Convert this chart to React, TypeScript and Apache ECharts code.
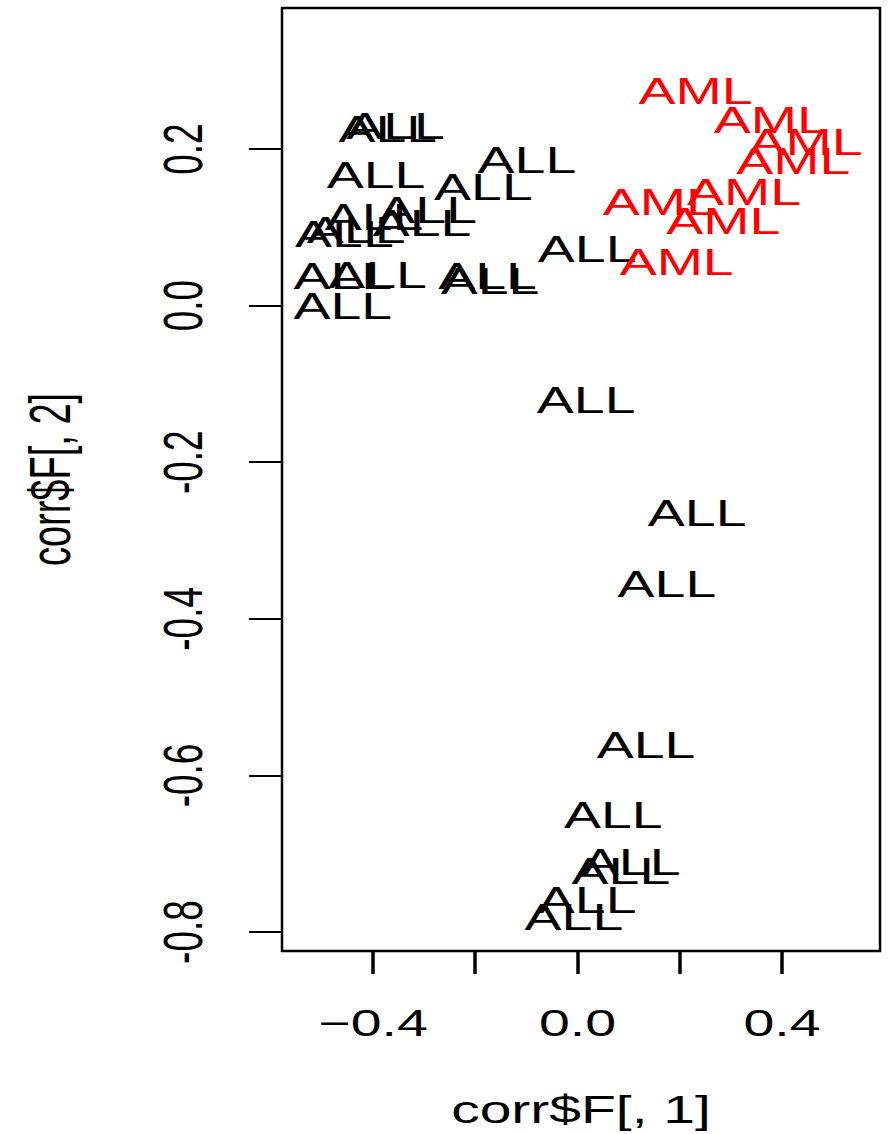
import React, { useEffect, useRef } from "react";
import * as echarts from "echarts";

// ALL sample coordinates (corr$F[,1], corr$F[,2])
const allX = [-0.371, -0.356, -0.394, -0.099, -0.184, -0.398, -0.293, -0.304, -0.456, -0.433, 0.019, -0.459, -0.391, -0.176, -0.171, -0.459, 0.017, 0.234, 0.175, 0.134, 0.07, 0.105, 0.085, 0.019, -0.007];
const allY = [0.226, 0.229, 0.167, 0.186, 0.151, 0.113, 0.122, 0.106, 0.091, 0.097, 0.072, 0.038, 0.039, 0.038, 0.031, -0.001, -0.121, -0.265, -0.356, -0.561, -0.651, -0.711, -0.722, -0.759, -0.781];
// AML sample coordinates
const amlX = [0.231, 0.378, 0.446, 0.422, 0.326, 0.161, 0.285, 0.194];
const amlY = [0.274, 0.237, 0.209, 0.184, 0.145, 0.132, 0.108, 0.056];

const xTickValues = [-0.4, -0.2, 0, 0.2, 0.4];
const xLabelValues = [-0.4, 0, 0.4];
const xTickLabels = ["\u22120.4", "0.0", "0.4"];
const yTickValues = [-0.8, -0.6, -0.4, -0.2, 0, 0.2];
const yTickLabels = ["-0.8", "-0.6", "-0.4", "-0.2", "0.0", "0.2"];

const X_MIN = -0.578;
const X_MAX = 0.5917;
const Y_MIN = -0.8242;
const Y_MAX = 0.3801;

const FONT = "Liberation Sans";
const FS = 37;
const SX = 1.5;

function txtStyle(text: string, fill: string, size: number = FS) {
  return {
    text,
    fill,
    fontSize: size,
    fontFamily: FONT,
    align: "center",
    verticalAlign: "middle",
    textAlign: "center",
    textVerticalAlign: "middle",
  };
}

export default function App() {
  const ref = useRef<HTMLDivElement>(null);
  useEffect(() => {
    if (!ref.current) return;
    const chart = echarts.init(ref.current, undefined, { renderer: "svg" });
    const labelSeries = (name: string, xs: number[], ys: number[], color: string) => ({
      type: "custom",
      name,
      silent: true,
      clip: false,
      data: xs.map((x, i) => [x, ys[i]]),
      renderItem: (params: any, api: any) => {
        const pt = api.coord([api.value(0), api.value(1)]);
        return {
          type: "text",
          x: pt[0],
          y: pt[1],
          scaleX: SX,
          style: txtStyle(name, color),
        };
      },
    });
    chart.setOption({
      animation: false,
      backgroundColor: "#ffffff",
      grid: {
        left: 282,
        right: 8,
        top: 8,
        bottom: 183,
        show: true,
        borderColor: "#000",
        borderWidth: 2.5,
      },
      xAxis: {
        type: "value",
        position: "bottom",
        min: X_MIN,
        max: X_MAX,
        axisLine: { show: false, onZero: false },
        axisTick: {
          show: true,
          inside: false,
          length: 23,
          lineStyle: { color: "#000", width: 3.5 },
          customValues: xTickValues,
        },
        axisLabel: { show: false },
        splitLine: { show: false },
      },
      yAxis: {
        type: "value",
        position: "left",
        min: Y_MIN,
        max: Y_MAX,
        axisLine: { show: false, onZero: false },
        axisTick: {
          show: true,
          inside: false,
          length: 33,
          lineStyle: { color: "#000", width: 2 },
          customValues: yTickValues,
        },
        axisLabel: { show: false },
        splitLine: { show: false },
      },
      series: [
        labelSeries("ALL", allX, allY, "#000000"),
        labelSeries("AML", amlX, amlY, "#ff0000"),
        {
          type: "custom",
          name: "xTickLabels",
          silent: true,
          clip: false,
          data: xLabelValues.map((v) => [v, Y_MIN]),
          renderItem: (params: any, api: any) => {
            const pt = api.coord([api.value(0), api.value(1)]);
            return {
              type: "text",
              x: pt[0],
              y: pt[1] + 72,
              scaleX: SX,
              style: txtStyle(xTickLabels[params.dataIndex], "#000"),
            };
          },
        },
        {
          type: "custom",
          name: "yTickLabels",
          silent: true,
          clip: false,
          data: yTickValues.map((v) => [X_MIN, v]),
          renderItem: (params: any, api: any) => {
            const pt = api.coord([api.value(0), api.value(1)]);
            return {
              type: "text",
              x: pt[0] - 99,
              y: pt[1],
              rotation: Math.PI / 2,
              scaleY: SX,
              style: txtStyle(yTickLabels[params.dataIndex], "#000"),
            };
          },
        },
      ],
      graphic: [
        {
          type: "text",
          x: 581,
          y: 1110,
          scaleX: SX,
          style: txtStyle("corr$F[, 1]", "#000", 38),
        },
        {
          type: "text",
          x: 50,
          y: 479.5,
          rotation: Math.PI / 2,
          scaleY: SX,
          style: txtStyle("corr$F[, 2]", "#000", 38),
        },
      ],
    });
    return () => chart.dispose();
  }, []);
  return (
    <div
      ref={ref}
      style={{ position: "fixed", left: 0, top: 0, width: 888, height: 1134, background: "#fff" }}
    />
  );
}
